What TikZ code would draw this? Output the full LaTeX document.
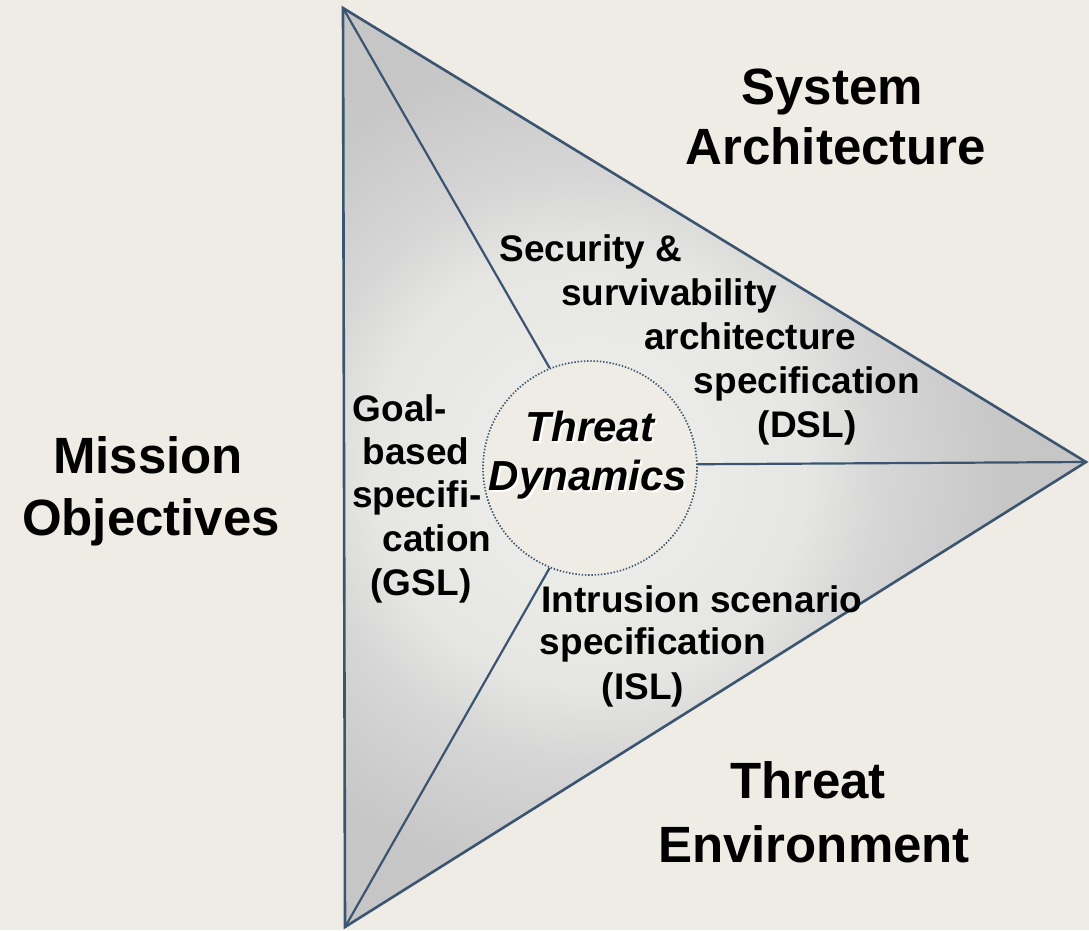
\documentclass[tikz,border=0pt]{standalone}
\usepackage{fontspec}
\setmainfont{Liberation Sans}
\definecolor{bg}{HTML}{EFECE5}
\definecolor{edge}{HTML}{3B5571}
% soft light core fading to grey towards the corners
\pgfdeclareradialshading{glow}{\pgfpoint{0bp}{0bp}}{%
  rgb(0bp)=(0.94,0.94,0.93);
  rgb(10.5bp)=(0.90,0.90,0.89);
  rgb(14bp)=(0.84,0.84,0.84);
  rgb(20bp)=(0.78,0.78,0.78);
  rgb(50bp)=(0.74,0.74,0.74)}
\tikzset{
  big/.style={font=\fontsize{51}{61}\selectfont\bfseries, anchor=base, inner sep=0pt},
  mid/.style={font=\fontsize{37}{44}\selectfont\bfseries, anchor=base, inner sep=0pt},
  core/.style={font=\fontsize{42}{50}\selectfont\bfseries\itshape, anchor=base, inner sep=0pt},
  outline/.style={draw=edge, line width=2.6pt, line join=miter},
  spoke/.style={draw=edge, line width=2.2pt},
}
\begin{document}
\begin{tikzpicture}[x=1pt, y=-1pt]
  \fill[bg] (0,0) rectangle (1089,930);
  \useasboundingbox (0,0) rectangle (1089,930);

  \coordinate (vT) at (343,8);
  \coordinate (vR) at (1086,462);
  \coordinate (vB) at (345,927);
  \coordinate (c) at (590,468);

  % shaded triangle
  \begin{scope}
    \clip (vT) -- (vR) -- (vB) -- cycle;
    \shade[shading=glow] (c) circle[radius=520];
  \end{scope}
  \draw[outline] (vT) -- (vR) -- (vB) -- cycle;

  % central circle
  \node[circle, minimum size=214pt, inner sep=0pt, fill=bg, draw=edge,
        line width=1.7pt, dash pattern=on 1.4pt off 1.8pt] (td) at (c) {};

  % spokes to the corners
  \draw[spoke] (vT) -- (td.112);
  \draw[spoke] (vR) -- (td.2);
  \draw[spoke] (vB) -- (td.248);

  % centre label with a light halo
  \node[core, white] (th1s) at (592,443) {Threat};
  \node[core, white] (dy1s) at (590,492) {Dynamics};
  \node[core] (th1) at (590,441) {Threat};
  \node[core] (dy1) at (588,490) {Dynamics};

  % outer labels
  \node[big] (sys) at (832,104) {System};
  \node[big] (arc) at (836,164) {Architecture};
  \node[big] (mis) at (148,473) {Mission};
  \node[big] (obj) at (151,535) {Objectives};
  \node[big] (thr) at (808,798) {Threat};
  \node[big] (env) at (814,862) {Environment};

  % architecture specification
  \node[mid] (s1) at (591,261) {Security \&};
  \node[mid] (s2) at (669,305) {survivability};
  \node[mid] (s3) at (750,349) {architecture};
  \node[mid] (s4) at (807,393) {specification};
  \node[mid] (s5) at (807,437) {(DSL)};

  % goal-based specification
  \node[mid] (g1) at (400,421) {Goal-};
  \node[mid] (g2) at (416,464) {based};
  \node[mid] (g3) at (417,507) {specifi-};
  \node[mid] (g4) at (437,551) {cation};
  \node[mid] (g5) at (421,595) {(GSL)};

  % intrusion scenario specification
  \node[mid] (i1) at (702,612) {Intrusion scenario};
  \node[mid] (i2) at (653,654) {specification};
  \node[mid] (i3) at (643,699) {(ISL)};
\end{tikzpicture}
\end{document}
